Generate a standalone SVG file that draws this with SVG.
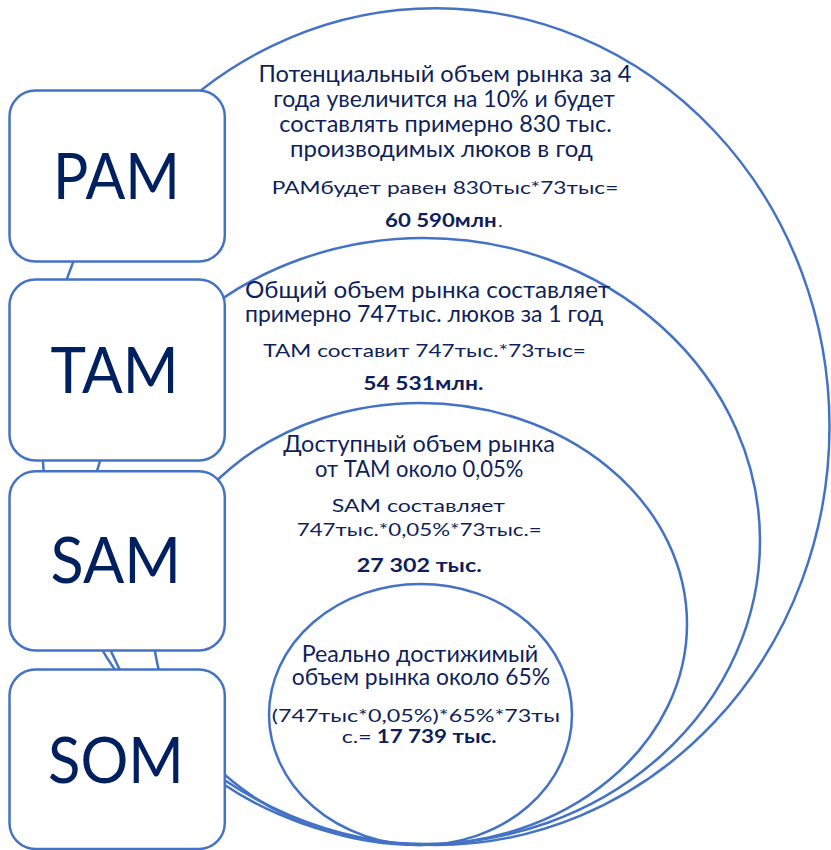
<svg xmlns="http://www.w3.org/2000/svg" width="831" height="850" viewBox="0 0 831 850">
  <style>
    .ring { fill: none; stroke: #4472C4; stroke-width: 2.5; }
    .box { fill: #ffffff; stroke: #4472C4; stroke-width: 2.5; }
    .lbl { font-family: Lato, "Liberation Sans", sans-serif; font-size: 63px; fill: #002060; text-anchor: start; }
    .d { font-family: Lato, "Liberation Sans", sans-serif; font-size: 23.5px; fill: #0f1f5c; }
    .f { font-family: Lato, "Liberation Sans", sans-serif; font-size: 18px; fill: #0f1f5c; }
    .b { font-family: Lato, "Liberation Sans", sans-serif; font-size: 18px; font-weight: bold; fill: #0f1f5c; }
  </style>
  <rect width="831" height="850" fill="#ffffff"/>

  <g id="connectors"></g>

  <g id="pam-market">
    <ellipse class="ring" cx="435.5" cy="426.6" rx="394" ry="418.4"/>
    <text class="d" x="258.5" y="81.7" textLength="373" lengthAdjust="spacingAndGlyphs">Потенциальный объем рынка за 4</text>
    <text class="d" x="273.3" y="107.3" textLength="341.7" lengthAdjust="spacingAndGlyphs">года увеличится на 10% и будет</text>
    <text class="d" x="279.3" y="132.3" textLength="332.4" lengthAdjust="spacingAndGlyphs">составлять примерно 830 тыс.</text>
    <text class="d" x="290" y="156.7" textLength="302.7" lengthAdjust="spacingAndGlyphs">производимых люков в год</text>
    <text class="f" x="271.7" y="194.3" textLength="346.6" lengthAdjust="spacingAndGlyphs">PAMбудет равен 830тыс*73тыс=</text>
    <text class="b" x="385" y="226.7" textLength="111.7" lengthAdjust="spacingAndGlyphs">60 590млн</text>
    <text class="f" x="498.3" y="226.7">.</text>
  </g>

  <g id="tam-market">
    <ellipse class="ring" cx="424" cy="541" rx="336" ry="303"/>
    <text class="d" x="245" y="298.3" textLength="365" lengthAdjust="spacingAndGlyphs">Общий объем рынка составляет</text>
    <text class="d" x="245" y="321.7" textLength="358.3" lengthAdjust="spacingAndGlyphs">примерно 747тыс. люков за 1 год</text>
    <text class="f" x="263.3" y="356.7" textLength="322.7" lengthAdjust="spacingAndGlyphs">TAM составит 747тыс.*73тыс=</text>
    <text class="b" x="363.3" y="390" textLength="120" lengthAdjust="spacingAndGlyphs">54 531млн.</text>
  </g>

  <g id="sam-market">
    <ellipse class="ring" cx="420" cy="624" rx="267" ry="221"/>
    <text class="d" x="283.3" y="452.3" textLength="271.7" lengthAdjust="spacingAndGlyphs">Доступный объем рынка</text>
    <text class="d" x="315" y="476.7" textLength="208.3" lengthAdjust="spacingAndGlyphs">от TAM около 0,05%</text>
    <text class="f" x="331.7" y="512.3" textLength="173.3" lengthAdjust="spacingAndGlyphs">SAM составляет</text>
    <text class="f" x="296.7" y="535.7" textLength="245" lengthAdjust="spacingAndGlyphs">747тыс.*0,05%*73тыс.=</text>
    <text class="b" x="356.7" y="571.7" textLength="125" lengthAdjust="spacingAndGlyphs">27 302 тыс.</text>
  </g>

  <g id="som-market">
    <ellipse class="ring" cx="420.5" cy="714.5" rx="151.5" ry="130.5"/>
    <text class="d" x="301.7" y="661.7" textLength="236.6" lengthAdjust="spacingAndGlyphs">Реально достижимый</text>
    <text class="d" x="291.7" y="685" textLength="258.3" lengthAdjust="spacingAndGlyphs">объем рынка около 65%</text>
    <text class="f" x="271.7" y="721.7" textLength="288.3" lengthAdjust="spacingAndGlyphs">(747тыс*0,05%)*65%*73ты</text>
    <text class="f" x="341.7" y="743.3" textLength="30" lengthAdjust="spacingAndGlyphs">с.=</text>
    <text class="b" x="376.7" y="743.3" textLength="120" lengthAdjust="spacingAndGlyphs">17 739 тыс.</text>
  </g>

  <g id="pam">
    <rect class="box" x="9.5" y="90.5" width="215.3" height="171" rx="26" ry="26"/>
    <text class="lbl" x="53" y="199.3" textLength="127" lengthAdjust="spacingAndGlyphs">PAM</text>
  </g>

  <g id="tam">
    <rect class="box" x="9.5" y="279.5" width="215.3" height="181" rx="26" ry="26"/>
    <text class="lbl" x="50.6" y="392.7" textLength="128" lengthAdjust="spacingAndGlyphs">TAM</text>
  </g>

  <g id="sam">
    <rect class="box" x="9.5" y="471.2" width="215.3" height="179.3" rx="26" ry="26"/>
    <text class="lbl" x="50.6" y="583.3" textLength="130.4" lengthAdjust="spacingAndGlyphs">SAM</text>
  </g>

  <g id="som">
    <rect class="box" x="9.5" y="669.5" width="215.3" height="179.5" rx="26" ry="26"/>
    <text class="lbl" x="48" y="782.7" textLength="135.8" lengthAdjust="spacingAndGlyphs">SOM</text>
  </g>
</svg>
